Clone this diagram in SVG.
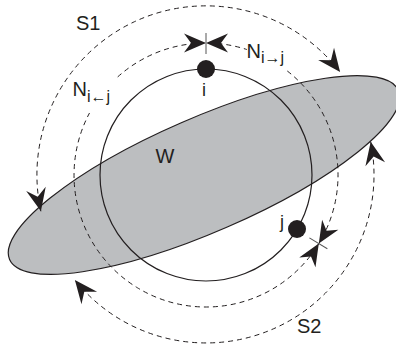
<svg xmlns="http://www.w3.org/2000/svg" width="396" height="347" viewBox="0 0 396 347">
<style>
.lbl{font-family:"Liberation Sans",Arial,sans-serif;font-size:20px;fill:#231f20}
.sub{font-size:16px}
.dash{fill:none;stroke:#231f20;stroke-width:1;stroke-dasharray:5 4}
.solid{fill:none;stroke:#231f20;stroke-width:1.2}
.head{fill:#231f20;stroke:none}
.tick{stroke:#555;stroke-width:1;fill:none}
</style>
<defs>
<path id="ah" class="head" d="M0,0 L-23,-10 L-15,0 L-23,10 Z"/>
<g id="bowtie">
<path class="head" d="M0,0 L-22,-9.5 L-15,0 L-22,9.5 Z"/>
<path class="head" d="M0,0 L22,-9.5 L15,0 L22,9.5 Z"/>
<line class="tick" x1="0" y1="-10" x2="0" y2="11"/>
</g>
</defs>
<g id="region-W">
<ellipse cx="204" cy="175" rx="212" ry="57" transform="rotate(-23.5 204 175)" fill="#bcbec0" stroke="#231f20" stroke-width="1.2"/>
<text class="lbl" x="165" y="163" text-anchor="middle">W</text>
</g>
<g id="circle">
<circle class="solid" cx="206" cy="175" r="106"/>
</g>
<g id="connectors">
<path id="S1-arc" class="dash" d="M40.9,211.3 A169,169 0 0 1 340.1,72.1"/>
<use href="#ah" transform="translate(40.9,211.3) rotate(77.6)"/>
<use href="#ah" transform="translate(340.1,72.1) rotate(52.5)"/>
<path id="S2-arc" class="dash" d="M370.7,141.8 A168,168 0 0 1 74.9,280"/>
<use href="#ah" transform="translate(370.7,141.8) rotate(-101.4)"/>
<use href="#ah" transform="translate(74.9,280) rotate(-128.7)"/>
<path id="N-inner-a" class="dash" d="M287.3,71 A132,132 0 1 1 89.5,113"/>
<path id="N-inner-b" class="dash" d="M117.7,76.9 A132,132 0 0 1 246.8,49.5"/>
<use href="#bowtie" transform="translate(206,43)"/>
<use href="#bowtie" transform="translate(318.8,243.6) rotate(121.3)"/>
</g>
<g id="node-i">
<circle cx="206" cy="69" r="9" fill="#231f20"/>
<text class="lbl" x="204" y="96" text-anchor="middle" style="font-size:18px">i</text>
</g>
<g id="node-j">
<circle cx="297" cy="229" r="9" fill="#231f20"/>
<text class="lbl" x="282" y="228" text-anchor="middle" style="font-size:18px">j</text>
</g>
<g id="labels">
<text class="lbl" x="76" y="30">S1</text>
<text class="lbl" x="297" y="333">S2</text>
<text class="lbl" x="246.5" y="58">N<tspan class="sub" dy="5">i→j</tspan></text>
<text class="lbl" x="72.5" y="96">N<tspan class="sub" dy="6">i←j</tspan></text>
</g>
</svg>
